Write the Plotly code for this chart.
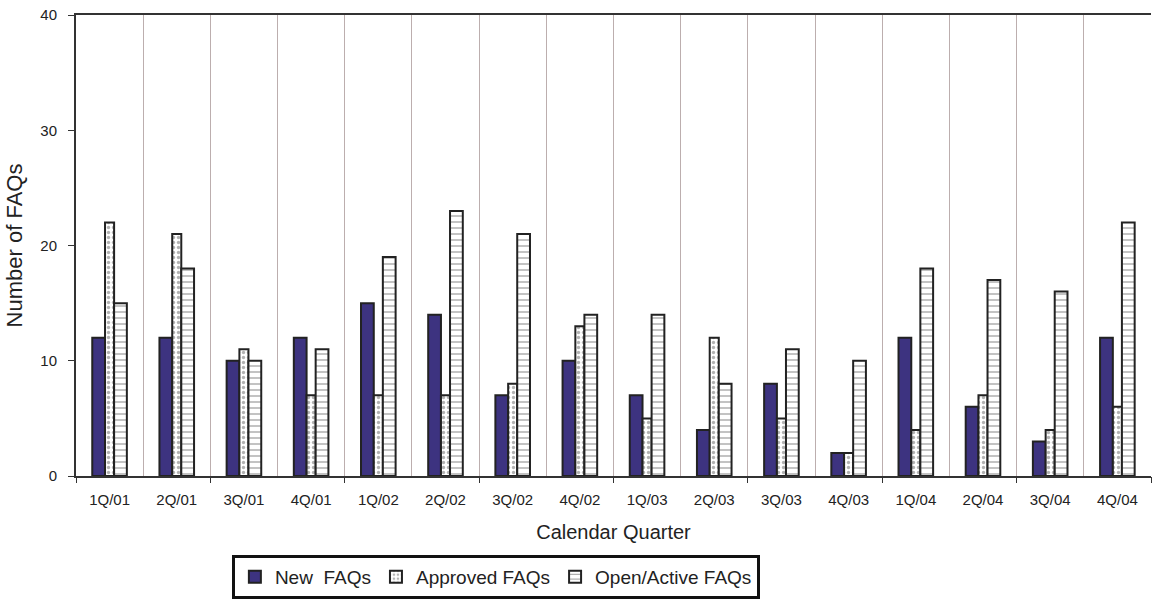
import plotly.graph_objects as go

# quarterly FAQ counts
quarters = ["1Q/01", "2Q/01", "3Q/01", "4Q/01", "1Q/02", "2Q/02", "3Q/02", "4Q/02",
            "1Q/03", "2Q/03", "3Q/03", "4Q/03", "1Q/04", "2Q/04", "3Q/04", "4Q/04"]
new_faqs = [12, 12, 10, 12, 15, 14, 7, 10, 7, 4, 8, 2, 12, 6, 3, 12]
approved_faqs = [22, 21, 11, 7, 7, 7, 8, 13, 5, 12, 5, 2, 4, 7, 4, 6]
open_faqs = [15, 18, 10, 11, 19, 23, 21, 14, 14, 8, 11, 10, 18, 17, 16, 22]

font = "Liberation Sans, Arial, sans-serif"
edge = dict(color="#222222", width=2)

fig = go.Figure()

fig.add_trace(go.Bar(
    x=quarters, y=new_faqs, name="New  FAQs",
    width=0.19, offset=-0.258,
    marker=dict(color="#3d3380", line=edge),
))
fig.add_trace(go.Bar(
    x=quarters, y=approved_faqs, name="Approved FAQs",
    width=0.135, offset=-0.068,
    marker=dict(color="white", line=edge,
                pattern=dict(shape=".", size=5, solidity=0.35,
                             fgcolor="#666666", bgcolor="white")),
))
fig.add_trace(go.Bar(
    x=quarters, y=open_faqs, name="Open/Active FAQs",
    width=0.19, offset=0.067,
    marker=dict(color="white", line=edge,
                pattern=dict(shape="-", size=6, solidity=0.2,
                             fgcolor="#333333", bgcolor="white")),
))

# helper trace so the second x axis (tick marks every other boundary) gets drawn
fig.add_trace(go.Scatter(x=[-0.5, 15.5], y=[0, 0], xaxis="x2", mode="lines",
                         line=dict(color="rgba(0,0,0,0)"), showlegend=False,
                         hoverinfo="skip"))

fig.update_layout(
    width=1152, height=604,
    margin=dict(l=76, r=1, t=15, b=128),
    paper_bgcolor="white", plot_bgcolor="white",
    barmode="overlay",
    font=dict(family=font, color="#222222"),
    xaxis=dict(
        type="category", tickson="boundaries", automargin=False,
        showgrid=True, gridcolor="#bcaeae", gridwidth=1,
        ticks="", ticklabelstandoff=9,
        tickfont=dict(size=15),
        showline=True, linecolor="#333333", linewidth=2, mirror=True,
        title=dict(text="Calendar Quarter", font=dict(size=20), standoff=18),
        range=[-0.5, 15.5],
    ),
    xaxis2=dict(
        overlaying="x", anchor="y", side="bottom", range=[-0.5, 15.5],
        tickvals=[-0.5 + 2 * i for i in range(9)], ticks="outside", ticklen=6,
        tickcolor="#333333", tickwidth=1, showticklabels=False, automargin=False,
        showgrid=False, zeroline=False, showline=False,
    ),
    yaxis=dict(
        range=[0, 40], dtick=10, showgrid=False, zeroline=False, automargin=False,
        ticks="outside", ticklen=6, tickcolor="#333333", ticklabelstandoff=8,
        tickfont=dict(size=15),
        showline=True, linecolor="#333333", linewidth=2,
        title=dict(text="Number of FAQs", font=dict(size=22), standoff=12),
    ),
    legend=dict(
        orientation="h", x=0.145, xanchor="left", y=-0.171, yanchor="top",
        bordercolor="#111111", borderwidth=3, bgcolor="white",
        font=dict(size=19), itemwidth=30, tracegroupgap=0,
    ),
)

# drop the default page margin so the figure sits at the window's corner
fig.write_html("out.html", config={"displayModeBar": False},
               post_script="document.body.style.margin='0';")
